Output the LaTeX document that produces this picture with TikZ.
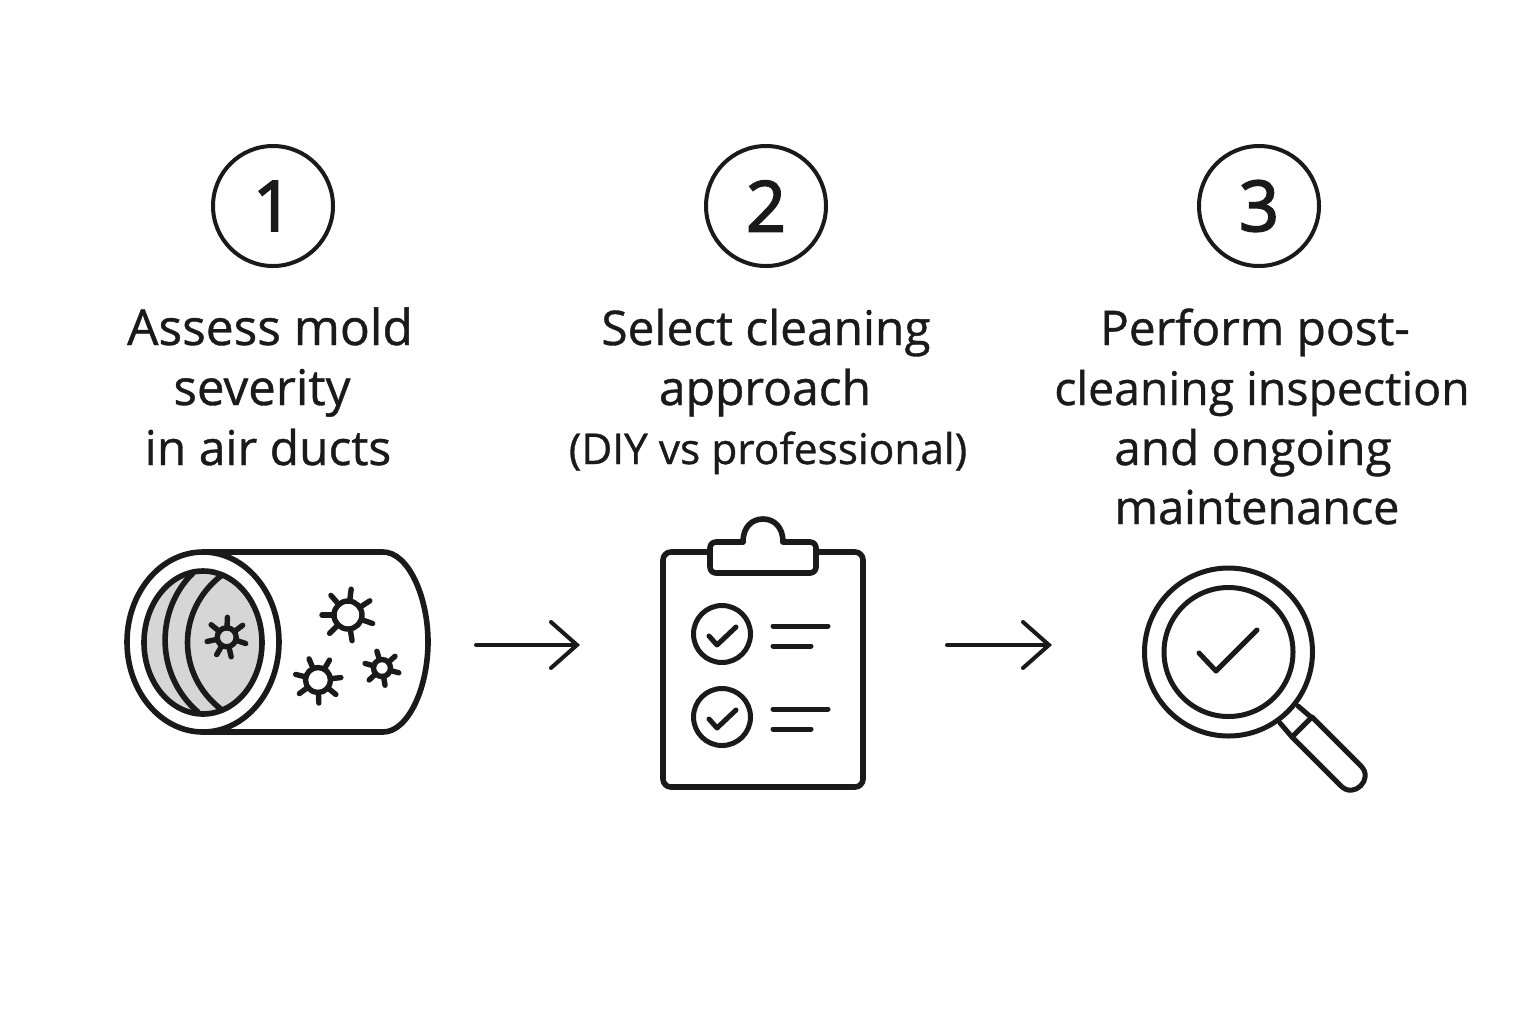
\documentclass[tikz,border=0pt]{standalone}
\usepackage{fontspec}
\setmainfont[FakeBold=0.8]{Open Sans}
\newfontfamily\digitfont[FakeBold=2.6]{Open Sans}
\usetikzlibrary{arrows.meta}
\definecolor{ink}{HTML}{1A1A1A}
\definecolor{lens}{HTML}{D6D6D6}
\tikzset{
  x=0.5pt,y=-0.5pt,
  icon/.style={draw=ink,line width=2.8pt,line cap=round,line join=round},
  thin icon/.style={draw=ink,line width=2.5pt,line cap=round,line join=round},
  numcirc/.style={circle,draw=ink,line width=2pt,minimum size=60pt,inner sep=0pt,text=ink,font=\digitfont\fontsize{35}{35}\selectfont},
  steptext/.style={anchor=base,text=ink,inner sep=0pt,font=\fontsize{#1}{#1}\selectfont},
  placeholder/.style={inner sep=0pt,outer sep=0pt},
  conn/.style={draw=ink,line width=2pt,line cap=round,-{Straight Barb[length=13pt,width=23pt,line cap=round]}},
}
\newcommand{\germ}[5]{%
  \begin{scope}[shift={(#1,#2)}]
    \foreach \a in {#5}{%
      \pgfmathsetmacro{\b}{0-\a}
      \draw[thin icon,line width=2.7pt] (\b:#3) -- (\b:#4);
    }
    \draw[thin icon,line width=2.7pt] (0,0) circle[radius=#3];
  \end{scope}}
\begin{document}
\begin{tikzpicture}
\useasboundingbox[fill=white] (0,0) rectangle (1536,1024);
% number circles
\node[numcirc] (n1) at (273,206) {1};
\node[numcirc] (n2) at (766,206) {2};
\node[numcirc] (n3) at (1259,206) {3};
% texts
\node[steptext=24.8] (t11) at (270,345) {Assess mold};
\node[steptext=24.6] (t12) at (262,405) {severity};
\node[steptext=24] (t13) at (268,465) {in air ducts};
\node[steptext=23.9] (t21) at (766,345) {Select cleaning};
\node[steptext=24] (t22) at (765,405) {approach};
\node[steptext=21.2] (t23) at (768,464) {(DIY vs professional)};
\node[steptext=23.9] (t31) at (1255,345) {Perform post-};
\node[steptext=23.2] (t32) at (1262,405) {cleaning inspection};
\node[steptext=23.8] (t33) at (1253,465) {and ongoing};
\node[steptext=23.4] (t34) at (1257,524) {maintenance};
% duct
\path[icon,fill=white] (203,552) -- (383,552) .. controls (408,552) and (428,596) .. (428,642)
  .. controls (428,688) and (408,732) .. (383,732) -- (203,732);
\draw[icon,fill=white] (203,642) ellipse[x radius=76,y radius=90];
\draw[icon,fill=lens] (203,642.5) ellipse[x radius=59,y radius=71.5];
\draw[icon] (193,573) .. controls (155,610) and (155,675) .. (198,712);
\draw[icon] (222,575) .. controls (176,610) and (176,675) .. (222,710);
\germ{226.7}{637.3}{9.5}{20}{88,37,-18,-77,-120,-168,141}
\germ{348}{615}{14}{26}{83,33,-19,-81,-135,180,131}
\germ{318}{680}{12.5}{23}{113,60,6,-39,-88,-144,166}
\germ{382}{668}{8.5}{17.5}{107,42,-16,-80,-137,165}
% clipboard
\draw[icon,rounded corners=4pt] (663,552) rectangle (863,787);
\draw[icon,fill=white,rounded corners=3pt] (743,542) -- (710,542) -- (710,573) -- (816,573) -- (816,542) -- (783,542);
\path[icon,fill=white] (743,542) .. controls (743,527) and (752,519) .. (763,519) .. controls (774,519) and (783,527) .. (783,542);
\draw[icon,line width=2.5pt] (722,634) circle[radius=28.5];
\draw[icon,line width=2.5pt] (722,717) circle[radius=28.5];
\draw[thin icon] (709,636) -- (717,645) -- (736,627);
\draw[thin icon] (709,719) -- (717,728) -- (736,710);
\draw[thin icon] (773,626) -- (828,626);
\draw[thin icon] (773,646) -- (811,646);
\draw[thin icon] (773,709) -- (828,709);
\draw[thin icon] (773,729) -- (811,729);
% magnifier
\draw[icon,line width=2.5pt] (1228.5,652) circle[radius=84];
\draw[icon,line width=2.5pt] (1228.5,652) circle[radius=64.5];
\draw[thin icon] (1199,653) -- (1216,671) -- (1257,630);
\draw[thin icon] (1298,706) -- (1312,718);
\draw[thin icon] (1280,723) -- (1292,737);
\draw[thin icon] (1312,717) -- (1361,766) .. controls (1374,779) and (1354,799) .. (1341,786) -- (1292,737) -- cycle;
% arrows
\node[placeholder,minimum width=151.5pt,minimum height=90pt] (duct) at (276.5,645) {};
\node[placeholder,minimum width=100pt,minimum height=117.5pt] (board) at (763,645) {};
\node[placeholder,minimum width=110pt,minimum height=110pt] (glass) at (1253,645) {};
\draw[conn,shorten <=24pt,shorten >=41.5pt] (duct.east) -- (board.west);
\draw[conn,shorten <=42pt,shorten >=45.5pt] (board.east) -- (glass.west);
\end{tikzpicture}
\end{document}
